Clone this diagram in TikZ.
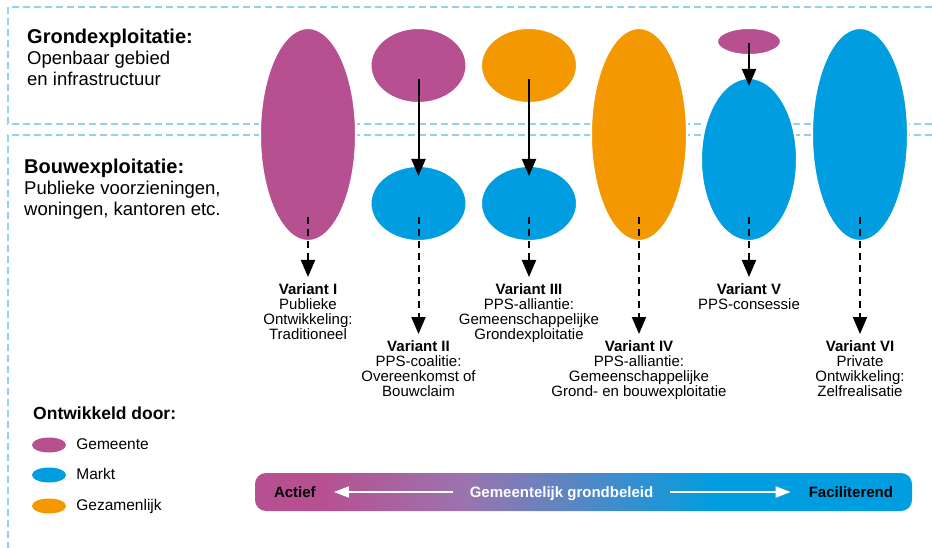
\documentclass[tikz,border=0pt]{standalone}
\usepackage{fontspec}
\setmainfont{Liberation Sans}
\usetikzlibrary{shapes.geometric,arrows.meta,positioning}

\definecolor{gemeente}{HTML}{B75091}
\definecolor{markt}{HTML}{009EE0}
\definecolor{samen}{HTML}{F39800}
\definecolor{kaderblauw}{HTML}{8FD3F3}
\definecolor{paars}{HTML}{9B74AE}

\pgfdeclarehorizontalshading{beleid}{100bp}{color(0bp)=(gemeente); color(30bp)=(gemeente);
  color(41bp)=(paars); color(60bp)=(markt); color(100bp)=(markt)}

\tikzset{
  blob/.style={ellipse, draw=white, line width=2pt, inner sep=0pt},
  legblob/.style={ellipse, inner sep=0pt, minimum width=34pt, minimum height=15pt},
  kader/.style={draw=kaderblauw, line width=1.5pt, dash pattern=on 7pt off 4pt},
  vast/.style={->, line width=2pt},
  stippel/.style={->, line width=2pt, dash pattern=on 7pt off 5pt},
  lbl/.style={align=center, inner sep=0pt, font=\fontsize{15}{15.3}\selectfont},
  kop/.style={align=left, inner sep=0pt, anchor=north west, font=\fontsize{18.5}{21}\selectfont},
  legtekst/.style={inner sep=0pt, text height=11pt, text depth=3pt, font=\fontsize{15.5}{16}\selectfont},
  balktekst/.style={inner sep=0pt, font=\fontsize{15}{16}\selectfont\bfseries},
  witpijl/.style={-{Triangle[width=11pt,length=15pt]}, draw=white, line width=2pt},
}

\begin{document}
\begin{tikzpicture}[x=1pt, y=-1pt, >={Triangle[width=14pt,length=17pt]}]
    \useasboundingbox (0,0) rectangle (932,548);

    % dashed frames
    \draw[kader] (932,124) -- (8,124) -- (8,7) -- (932,7);
    \draw[kader] (932,135) -- (8,135) -- (8,548);

    % left texts
    \node[kop] (grond) at (27,29) {{\fontsize{20}{21}\selectfont\bfseries Grondexploitatie:}\\Openbaar gebied\\en infrastructuur};
    \node[kop] (bouw) at (24,159) {{\fontsize{20}{21}\selectfont\bfseries Bouwexploitatie:}\\Publieke voorzieningen,\\woningen, kantoren etc.};

    % ellipses
    \node[blob, fill=gemeente, minimum width=96pt, minimum height=213pt] (e1) at (308,134.5) {};
    \node[blob, fill=gemeente, minimum width=96pt, minimum height=75pt] (e2t) at (418.5,65.5) {};
    \node[blob, fill=markt, minimum width=96pt, minimum height=75pt] (e2b) at (418.5,203.5) {};
    \node[blob, fill=samen, minimum width=96pt, minimum height=75pt] (e3t) at (529,65.5) {};
    \node[blob, fill=markt, minimum width=96pt, minimum height=75pt] (e3b) at (529,203.5) {};
    \node[blob, fill=samen, minimum width=96pt, minimum height=213pt] (e4) at (639,134.5) {};
    \node[blob, fill=gemeente, minimum width=64pt, minimum height=27pt] (e5t) at (749,41.5) {};
    \node[blob, fill=markt, minimum width=96pt, minimum height=163pt] (e5b) at (749,159.5) {};
    \node[blob, fill=markt, minimum width=96pt, minimum height=213pt] (e6) at (860,134.5) {};

    % solid arrows
    \draw[vast] ([yshift=-14pt]e2t.center) -- ([yshift=-11pt]e2b.north);
    \draw[vast] ([yshift=-14pt]e3t.center) -- ([yshift=-11pt]e3b.north);
    \draw[vast] ([yshift=-2pt]e5t.center) -- ([yshift=-9pt]e5b.north);

    % arrow ends
    \coordinate[below=35pt of e1.south] (p1);
    \coordinate[below=92pt of e2b.south] (p2);
    \coordinate[below=35pt of e3b.south] (p3);
    \coordinate[below=92pt of e4.south] (p4);
    \coordinate[below=35pt of e5b.south] (p5);
    \coordinate[below=92pt of e6.south] (p6);

    % dashed arrows
    \draw[stippel] ([yshift=25pt]e1.south) -- (p1);
    \draw[stippel] ([yshift=25pt]e2b.south) -- (p2);
    \draw[stippel] ([yshift=25pt]e3b.south) -- (p3);
    \draw[stippel] ([yshift=25pt]e4.south) -- (p4);
    \draw[stippel] ([yshift=25pt]e5b.south) -- (p5);
    \draw[stippel] ([yshift=25pt]e6.south) -- (p6);

    % variant labels
    \node[lbl, below=6pt of p1] (v1) {\textbf{Variant I}\\Publieke\\Ontwikkeling:\\Traditioneel};
    \node[lbl, below=6pt of p2] (v2) {\textbf{Variant II}\\PPS-coalitie:\\Overeenkomst of\\Bouwclaim};
    \node[lbl, below=6pt of p3] (v3) {\textbf{Variant III}\\PPS-alliantie:\\Gemeenschappelijke\\Grondexploitatie};
    \node[lbl, below=6pt of p4] (v4) {\textbf{Variant IV}\\PPS-alliantie:\\Gemeenschappelijke\\Grond- en bouwexploitatie};
    \node[lbl, below=6pt of p5] (v5) {\textbf{Variant V}\\PPS-consessie};
    \node[lbl, below=6pt of p6] (v6) {\textbf{Variant VI}\\Private\\Ontwikkeling:\\Zelfrealisatie};

    % legend
    \node[inner sep=0pt, anchor=base west, font=\fontsize{17.5}{18}\selectfont\bfseries] (door) at (33,419) {Ontwikkeld door:};
    \node[legblob, fill=gemeente] (lg) at (49,445) {};
    \node[legblob, fill=markt] (lm) at (49,475) {};
    \node[legblob, fill=samen] (lz) at (49,506) {};
    \node[legtekst, right=10pt of lg] (tg) {Gemeente};
    \node[legtekst, right=10pt of lm] (tm) {Markt};
    \node[legtekst, right=10pt of lz] (tz) {Gezamenlijk};

    % gradient bar
    \node[shade, shading=beleid, rounded corners=11pt, inner sep=0pt,
          minimum width=657pt, minimum height=38pt] (balk) at (583.5,492) {};
    \node[balktekst, anchor=base west] (actief) at ([xshift=19pt, yshift=-5pt]balk.west) {Actief};
    \node[balktekst, anchor=base east] (facil) at ([xshift=-19pt, yshift=-5pt]balk.east) {Faciliterend};
    \node[balktekst, anchor=base, text=white] (beleid) at ([xshift=-22pt, yshift=-5pt]balk.center) {Gemeentelijk grondbeleid};
    \draw[witpijl] ([xshift=-17pt, yshift=5pt]beleid.base west) -- ([xshift=18pt, yshift=5pt]actief.base east);
    \draw[witpijl] ([xshift=17pt, yshift=5pt]beleid.base east) -- ([xshift=-18pt, yshift=5pt]facil.base west);
\end{tikzpicture}
\end{document}
